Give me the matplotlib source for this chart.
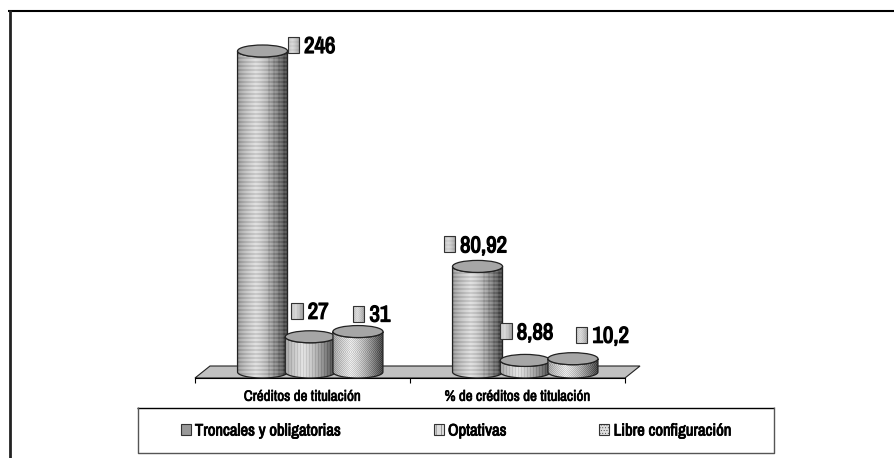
import numpy as np
import matplotlib
matplotlib.use("Agg")
import matplotlib.pyplot as plt
import matplotlib.patheffects as pe
from matplotlib.lines import Line2D
from matplotlib.patches import Ellipse, Patch, Polygon
from matplotlib.transforms import Affine2D

categories = ["Créditos de titulación", "% de créditos de titulación"]
series = ["Troncales y obligatorias", "Optativas", "Libre configuración"]
troncales = [246, 80.92]
optativas = [27, 8.88]
libre = [31, 10.2]
value_labels = [["246", "80,92"], ["27", "8,88"], ["31", "10,2"]]

plt.rcParams["font.family"] = ["Archivo Narrow", "Liberation Sans"]
plt.rcParams["hatch.linewidth"] = 0.3

W, H = 895, 458
fig = plt.figure(figsize=(W / 100, H / 100), dpi=100)
px = Affine2D().scale(1, -1).translate(0, H)  # top-left pixel coords


def bold(width):
    # the narrow face has no bold cut here, so thicken it with a stroke
    return [pe.withStroke(linewidth=width, foreground="black")]


# axes runs from value 0 (y=372) to 246 (y=51), floor spans x=195..625
ax = fig.add_axes([195 / W, 1 - 372 / H, 430 / W, 321 / H])
ax.set_xlim(0, 2)
ax.set_ylim(0, 246)
ax.patch.set_visible(False)
dx = 2 / 430  # data units per pixel
dy = 246 / 321


def texture(kind, w, h):
    u = (np.arange(w) + 0.5) / w
    shade = np.where(u < 0.35, 0.62 + 0.31 * (u / 0.35) ** 0.6, 0.93 - 0.62 * ((u - 0.35) / 0.65) ** 1.4)
    img = np.tile(shade, (h, 1))
    yy, xx = np.mgrid[0:h, 0:w]
    if kind == 0:
        img = img * 0.9 - 0.09 * (yy % 4 < 2) + 0.04
        img = img - 0.05 * ((xx % 5 < 2) & (u[xx] > 0.55))
    elif kind == 1:
        img = img * 0.95 - 0.08 * (xx % 3 == 0)
    else:
        img = img - 0.12 * ((xx + yy) % 2 == 0)
    return np.clip(img, 0, 1)


def swatch(kind, x0, x1, y0, y1):
    # x0..y1 in data units
    ax.imshow(texture(kind, 12, 16) * 0.4 + 0.5, cmap="gray", vmin=0, vmax=1, aspect="auto",
              extent=(x0, x1, y0, y1), zorder=20, clip_on=False)
    ax.add_patch(Polygon([(x0, y0), (x1, y0), (x1, y1), (x0, y1)], closed=True, fill=False,
                         ec="#333333", lw=0.8, zorder=21, clip_on=False))


def cylinder(x, value, kind, width, z):
    a = width / 2
    b = 6 * dy
    t = np.linspace(np.pi, 2 * np.pi, 60)
    lower = np.column_stack([x + a * np.cos(t), 0 + b * np.sin(t)])
    upper = np.column_stack([x + a * np.cos(t[::-1]), value + b * np.sin(t[::-1])])
    body = Polygon(np.vstack([lower, upper]), closed=True, fc="none", ec="#222222", lw=0.9,
                   zorder=z + 1, clip_on=False)
    ax.add_patch(body)
    im = ax.imshow(texture(kind, 50, max(int((value + 2 * b) / dy), 2)), cmap="gray", vmin=0, vmax=1,
                   aspect="auto", extent=(x - a, x + a, -b, value + b), zorder=z, interpolation="nearest")
    im.set_clip_box(fig.bbox)
    im.set_clip_path(body)
    ax.add_patch(Ellipse((x, value), width, 2 * b, fc="#a6a6a6", ec="#222222", lw=0.9,
                         zorder=z + 2, clip_on=False))


# floor
floor = Polygon([(0, -6 * dy), (2, -6 * dy), (2 + 15 * dx, 6 * dy), (15 * dx, 6 * dy)], closed=True,
                fc="#c0c0c0", ec="#222222", lw=0.8, zorder=1, clip_on=False)
ax.add_patch(floor)

bar_w = 50 * dx
step = 47.7 * dx
centers = np.arange(len(categories)) + 0.5 + 0.036
# label offsets from the top of each bar, in pixels
swatch_dx = [[25, -34], [-19, -25], [-5, 3]]
swatch_dy = [[-6, -22], [-26, -29], [-18, -24]]
text_h = 16

for i, vals in enumerate([troncales, optativas, libre]):
    for j, v in enumerate(vals):
        x = centers[j] + (i - 1) * step
        cylinder(x, v, i, bar_w, 5 + i * 4)
        sx = x + swatch_dx[i][j] * dx
        sy = v - swatch_dy[i][j] * dy
        swatch(i, sx, sx + 11.5 * dx, sy - text_h / 2 * dy, sy + text_h / 2 * dy)
        ax.text(sx + 16.5 * dx, sy, value_labels[i][j], fontsize=16.5, ha="left", va="center_baseline",
                color="black", zorder=22, clip_on=False, path_effects=bold(0.9))

ax.set_xlim(0, 2)
ax.set_ylim(0, 246)

# axis line and ticks sit at the front edge of the floor
for s in ["top", "left", "right"]:
    ax.spines[s].set_visible(False)
ax.spines["bottom"].set_position(("outward", 6 * 0.72))
ax.spines["bottom"].set_linewidth(0.8)
ax.set_yticks([])
ax.set_xticks([0, 1, 2])
ax.set_xticklabels([])
ax.set_xticks([0.5, 1.5], minor=True)
ax.set_xticklabels(categories, minor=True, fontsize=10.8, path_effects=bold(0.5))
ax.tick_params(axis="x", which="major", length=3.6, width=0.8)
ax.tick_params(axis="x", which="minor", length=0, pad=8.5)

# outer frame: top and left only
fig.add_artist(Line2D([8, 895], [11, 11], color="black", lw=1.5, transform=px, solid_capstyle="butt"))
fig.add_artist(Line2D([9.5, 9.5], [10, 458], color="#222222", lw=2.0, transform=px, solid_capstyle="butt"))

# legend box
fig.add_artist(Line2D([137, 774], [407.5, 407.5], color="black", lw=1.0, transform=px, solid_capstyle="butt"))
fig.add_artist(Line2D([137.5, 137.5, 773.5, 773.5], [407, 452.5, 452.5, 407], color="#555555", lw=1.0,
                      transform=px, solid_capstyle="butt"))

handles = [
    Patch(fc="#999999", ec="#333333", lw=0.8),
    Patch(fc="#dddddd", ec="#333333", lw=0.8, hatch="|||"),
    Patch(fc="#dddddd", ec="#333333", lw=0.8, hatch="......"),
]
leg = ax.legend(handles, series, ncols=3, frameon=False, fontsize=12, loc="center",
                bbox_to_anchor=(456, 431), bbox_transform=px, borderpad=0, borderaxespad=0,
                handlelength=0.6, handleheight=0.6, handletextpad=0.25, columnspacing=5.58)
for t in leg.get_texts():
    t.set_path_effects(bold(0.6))

fig.savefig("out.png", dpi=100)
